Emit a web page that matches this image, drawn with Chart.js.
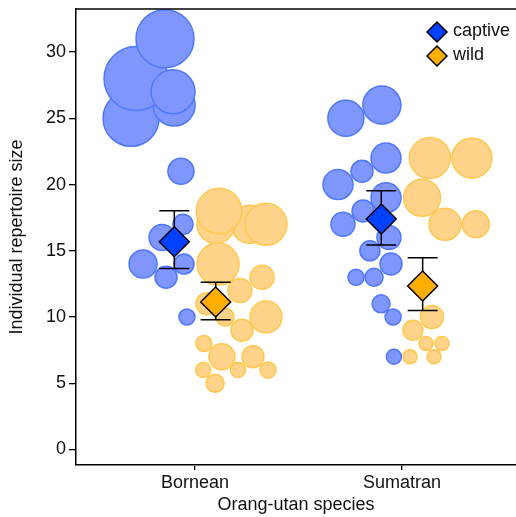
<!DOCTYPE html>
<html>
<head>
<meta charset="utf-8">
<script src="https://cdn.jsdelivr.net/npm/chart.js@4.4.0/dist/chart.umd.min.js"></script>
<style>
  html, body { margin: 0; padding: 0; background: #fff; }
  #wrap { width: 516px; height: 517px; }
</style>
</head>
<body>
<div id="wrap"><canvas id="chart"></canvas></div>
<script>
// categories and ticks
const species = ['Bornean', 'Sumatran'];
const yTicks = [0, 5, 10, 15, 20, 25, 30];
const groups = ['captive', 'wild'];

// captive individuals (species index, horizontal jitter, repertoire size, bubble size)
const captiveSpecies = [0, 0, 0, 0, 0, 0, 0, 0, 0, 0, 0, 0,
                        1, 1, 1, 1, 1, 1, 1, 1, 1, 1, 1, 1, 1, 1, 1, 1];
const captiveJitter = [-0.039, -0.140, -0.251, -0.053, -0.159, -0.058, -0.068, -0.309, -0.101, -0.285, -0.106, -0.145,
                       -0.039, -0.043, -0.101, -0.222, -0.135, -0.053, -0.155, -0.063, -0.285, -0.188, -0.077, -0.309, -0.193, -0.077, -0.271, -0.097];
const captiveRepertoire = [10, 13, 14, 14, 16, 17, 21, 25, 26, 28, 27, 31,
                           7, 10, 11, 13, 13, 14, 15, 16, 17, 18, 19, 20, 21, 22, 25, 26];
const captiveSize = [8, 11, 14, 10, 13, 10, 13, 28, 21, 32, 22, 29,
                     7.5, 8, 9, 8, 9, 11, 10, 12, 12, 11, 15, 15, 11, 15, 18, 19];

// wild individuals
const wildSpecies = [0, 0, 0, 0, 0, 0, 0, 0, 0, 0, 0, 0, 0, 0, 0, 0, 0, 0,
                     1, 1, 1, 1, 1, 1, 1, 1, 1, 1, 1];
const wildJitter = [0.097, 0.039, 0.208, 0.353, 0.130, 0.280, 0.043, 0.227, 0.145, 0.343, 0.058, 0.217, 0.324, 0.111, 0.266, 0.343, 0.101, 0.116,
                    0.039, 0.155, 0.116, 0.193, 0.053, 0.145, 0.208, 0.357, 0.097, 0.135, 0.338];
const wildRepertoire = [5, 6, 6, 6, 7, 7, 8, 9, 10, 10, 11, 12, 13, 14, 17, 17, 17, 18,
                        7, 7, 8, 8, 9, 10, 17, 17, 19, 22, 22];
const wildSize = [9, 7.5, 7.5, 8, 13, 11, 8, 11, 9, 16, 11, 12, 12, 21, 19, 21, 19, 22.7,
                  7, 7, 7, 7, 10, 11.5, 16, 13.5, 18.5, 20.5, 20];

// group means with error bars (Bornean, Sumatran)
const captiveMean = [15.68, 17.4];
const captiveLow = [13.67, 15.43];
const captiveHigh = [18.02, 19.53];
const wildMean = [11.13, 12.34];
const wildLow = [9.8, 10.5];
const wildHigh = [12.62, 14.48];
const dodge = 0.1;

const points = (sp, jit, val, size) => sp.map((s, i) => ({ x: s + 1 + jit[i], y: val[i], r: size[i] }));
const meanPoints = (vals, off) => vals.map((v, i) => ({ x: i + 1 + off, y: v }));

// error bars drawn under the diamonds
const errorBars = {
  id: 'errorBars',
  beforeDatasetDraw(chart, args) {
    const ds = chart.data.datasets[args.index];
    if (!ds.errLow) return;
    const { ctx, scales: { x, y } } = chart;
    ctx.save();
    ctx.strokeStyle = '#000';
    ctx.lineWidth = 1.5;
    ds.data.forEach((p, i) => {
      const px = x.getPixelForValue(p.x);
      const lo = y.getPixelForValue(ds.errLow[i]);
      const hi = y.getPixelForValue(ds.errHigh[i]);
      ctx.beginPath();
      ctx.moveTo(px, lo); ctx.lineTo(px, hi);
      ctx.moveTo(px - 15, lo); ctx.lineTo(px + 15, lo);
      ctx.moveTo(px - 15, hi); ctx.lineTo(px + 15, hi);
      ctx.stroke();
    });
    ctx.restore();
  }
};

// top frame line and the legend inside the panel
const frameAndLegend = {
  id: 'frameAndLegend',
  afterDraw(chart) {
    const { ctx, chartArea } = chart;
    ctx.save();
    ctx.strokeStyle = '#000';
    ctx.lineWidth = 1.5;
    ctx.beginPath();
    ctx.moveTo(chartArea.left, chartArea.top);
    ctx.lineTo(chartArea.right, chartArea.top);
    ctx.stroke();

    const means = chart.data.datasets.filter(d => d.errLow);
    means.forEach((d, i) => {
      const cx = chartArea.right - 79;
      const cy = chartArea.top + 23 + i * 24;
      ctx.beginPath();
      ctx.moveTo(cx - 10, cy); ctx.lineTo(cx, cy - 10);
      ctx.lineTo(cx + 10, cy); ctx.lineTo(cx, cy + 10);
      ctx.closePath();
      ctx.fillStyle = d.backgroundColor;
      ctx.fill();
      ctx.lineWidth = 1.5;
      ctx.stroke();
      ctx.fillStyle = '#111';
      ctx.font = '18px "Liberation Sans", Arial, sans-serif';
      ctx.textBaseline = 'middle';
      ctx.fillText(d.label, cx + 16, cy - 1);
    });
    ctx.restore();
  }
};

Chart.defaults.font.family = '"Liberation Sans", Arial, sans-serif';
Chart.defaults.font.size = 18;
Chart.defaults.color = '#111';

new Chart(document.getElementById('chart'), {
  type: 'bubble',
  data: {
    datasets: [
      {
        label: groups[0],
        type: 'scatter',
        data: meanPoints(captiveMean, -dodge),
        errLow: captiveLow,
        errHigh: captiveHigh,
        pointStyle: 'rectRot',
        pointRadius: 15,
        backgroundColor: '#0041FF',
        borderColor: '#000',
        borderWidth: 1.5,
        order: 2
      },
      {
        label: groups[1],
        type: 'scatter',
        data: meanPoints(wildMean, dodge),
        errLow: wildLow,
        errHigh: wildHigh,
        pointStyle: 'rectRot',
        pointRadius: 15,
        backgroundColor: '#FFAE00',
        borderColor: '#000',
        borderWidth: 1.5,
        order: 1
      },
      {
        label: groups[0] + ' individuals',
        data: points(captiveSpecies, captiveJitter, captiveRepertoire, captiveSize),
        backgroundColor: '#8096FF',
        borderColor: '#4F78FF',
        borderWidth: 1.5,
        order: 4
      },
      {
        label: groups[1] + ' individuals',
        data: points(wildSpecies, wildJitter, wildRepertoire, wildSize),
        backgroundColor: '#FFD48A',
        borderColor: '#FFC84D',
        borderWidth: 1.5,
        order: 3
      }
    ]
  },
  options: {
    responsive: true,
    maintainAspectRatio: false,
    animation: false,
    events: [],
    layout: { autoPadding: false, padding: { top: 9, right: 0, left: 0, bottom: 0 } },
    plugins: {
      legend: { display: false },
      tooltip: { enabled: false }
    },
    scales: {
      x: {
        type: 'linear',
        min: 0.425,
        max: 2.551,
        afterBuildTicks: s => { s.ticks = species.map((n, i) => ({ value: i + 1 })); },
        afterFit: s => { s.height = 52; s.paddingLeft = 0; s.paddingRight = 0; },
        ticks: {
          padding: 2,
          callback: (v, i) => species[i]
        },
        grid: { drawOnChartArea: false, color: '#000', tickLength: 5, lineWidth: 1.3 },
        border: { color: '#000', width: 1.5 },
        title: {
          display: true,
          text: 'Orang-utan species',
          padding: { top: 0, bottom: 1.5 }
        }
      },
      y: {
        type: 'linear',
        min: -1.17,
        max: 33.25,
        afterBuildTicks: s => { s.ticks = yTicks.map(v => ({ value: v })); },
        afterFit: s => { s.width = 76; s.paddingTop = 0; s.paddingBottom = 0; },
        ticks: { padding: 3 },
        grid: { drawOnChartArea: false, color: '#000', tickLength: 7, lineWidth: 1.3 },
        border: { color: '#000', width: 1.5 },
        title: {
          display: true,
          text: 'Individual repertoire size',
          padding: { top: 6, bottom: 0 }
        }
      }
    }
  },
  plugins: [errorBars, frameAndLegend]
});
</script>
</body>
</html>
